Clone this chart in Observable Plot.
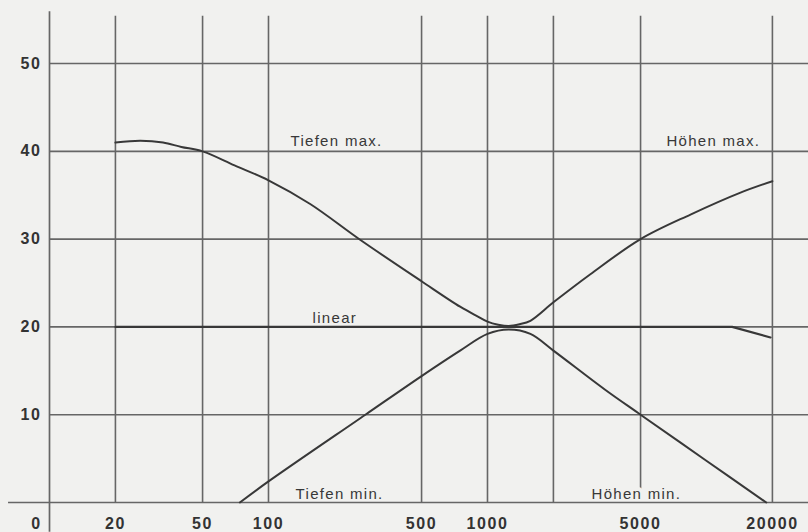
<!DOCTYPE html>
<html>
<head>
<meta charset="utf-8">
<script src="https://cdn.jsdelivr.net/npm/d3@7"></script>
<script src="https://cdn.jsdelivr.net/npm/@observablehq/plot@0.6"></script>
<style>
  html, body { margin: 0; padding: 0; background: #f1f1ef; }
  #chart svg text { letter-spacing: 1.3px; }
  #chart svg g.ticklabel text { letter-spacing: 1.6px; }
</style>
</head>
<body>
<div id="chart"></div>
<script>
// ---- data (frequency in Hz, level in dB) ----
const xTicks = [20, 50, 100, 500, 1000, 5000, 20000];
const yTicks = [10, 20, 30, 40, 50];
const gridFreqs = [20, 50, 100, 500, 1000, 2000, 5000, 20000];
const gridLevels = [10, 20, 30, 40, 50];
const xDomain = [10, 29230];
const yDomain = [0, 55.7];

// upper envelope: Tiefen max. (bass boost) then Höhen max. (treble boost)
const tiefenMaxF = [20, 26, 33, 40, 50, 70, 100, 155, 263, 500, 750, 900, 1000, 1120, 1250];
const tiefenMaxV = [41.0, 41.2, 41.0, 40.5, 40.0, 38.4, 36.7, 34.0, 29.9, 25.2, 22.3, 21.2, 20.6, 20.25, 20.1];

const hoehenMaxF = [1250, 1400, 1570, 2000, 2950, 5000, 8450, 14300, 20000];
const hoehenMaxV = [20.1, 20.3, 20.7, 22.8, 26.0, 30.0, 32.8, 35.3, 36.6];

// lower envelope: Tiefen min. (bass cut) then Höhen min. (treble cut)
const tiefenMinF = [74, 100, 277, 500, 750, 1000, 1250];
const tiefenMinV = [0, 2.4, 10.0, 14.4, 17.3, 19.2, 19.7];

const hoehenMinF = [1250, 1570, 2000, 3420, 5000, 9800, 18750];
const hoehenMinV = [19.7, 19.2, 17.3, 12.9, 10.0, 4.9, 0];

const linearF = [20, 13100, 19600];
const linearV = [20, 20, 18.8];

const labelTexts = ["Tiefen max.", "Höhen max.", "linear", "Tiefen min.", "Höhen min."];
const labelFreqs = [126, 6560, 159, 133, 2985];
const labelLevels = [41.1, 41.1, 21.0, 0.9, 0.9];

// ---- build tables ----
const toRows = (name, fs, vs) => fs.map((f, i) => ({series: name, f, v: vs[i]}));
const upperRows = [
  ...toRows("max", tiefenMaxF, tiefenMaxV),
  ...toRows("max", hoehenMaxF.slice(1), hoehenMaxV.slice(1))
];
const lowerRows = [
  ...toRows("min", tiefenMinF, tiefenMinV),
  ...toRows("min", hoehenMinF.slice(1), hoehenMinV.slice(1))
];
const linearRows = toRows("linear", linearF, linearV);
const labels = labelTexts.map((t, i) => ({t, f: labelFreqs[i], v: labelLevels[i]}));

const bg = "#f1f1ef";
const gridColor = "#666";
const ink = "#383838";
const tickStyle = {fontSize: 16, fontWeight: "bold", fill: "#333", className: "ticklabel"};

const chart = Plot.plot({
  width: 808,
  height: 532,
  marginLeft: 49,
  marginRight: 0,
  marginTop: 13,
  marginBottom: 30,
  style: {background: bg, fontFamily: "'Liberation Sans', Arial, sans-serif", overflow: "visible"},
  x: {type: "log", domain: xDomain, axis: null},
  y: {domain: yDomain, axis: null},
  marks: [
    // vertical grid
    Plot.ruleX([xDomain[0]], {y1: -3.4, y2: 55.9, stroke: gridColor, strokeWidth: 1.7}),
    Plot.ruleX(gridFreqs, {y1: 0, y2: 55.4, stroke: gridColor, strokeWidth: 1.6}),
    // curve labels with paper halo
    Plot.text(labels, {x: "f", y: "v", text: "t", textAnchor: "start", fontSize: 15,
      fill: ink, stroke: bg, strokeWidth: 8, lineAnchor: "middle"}),
    // horizontal grid
    Plot.ruleY(gridLevels, {x1: xDomain[0], x2: xDomain[1], stroke: gridColor, strokeWidth: 1.6}),
    Plot.ruleY([0], {x1: 6.5, x2: xDomain[1], stroke: gridColor, strokeWidth: 1.7}),
    // curves
    Plot.line(upperRows, {x: "f", y: "v", curve: "catmull-rom", stroke: ink, strokeWidth: 2}),
    Plot.line(lowerRows, {x: "f", y: "v", curve: "catmull-rom", stroke: ink, strokeWidth: 2}),
    Plot.line(linearRows, {x: "f", y: "v", curve: "linear", stroke: ink, strokeWidth: 2.2}),
    // tick labels (x: frequency, y: level)
    Plot.text(xTicks, {x: d => d, y: 0, text: d => String(d), dy: 21, lineAnchor: "middle", ...tickStyle}),
    Plot.text(yTicks, {x: xDomain[0], y: d => d, text: d => String(d), dx: -8, textAnchor: "end",
      lineAnchor: "middle", ...tickStyle}),
    Plot.text([0], {x: xDomain[0], y: 0, text: d => String(d), dx: -13, dy: 21,
      lineAnchor: "middle", ...tickStyle})
  ]
});
document.getElementById("chart").appendChild(chart);
</script>
</body>
</html>
